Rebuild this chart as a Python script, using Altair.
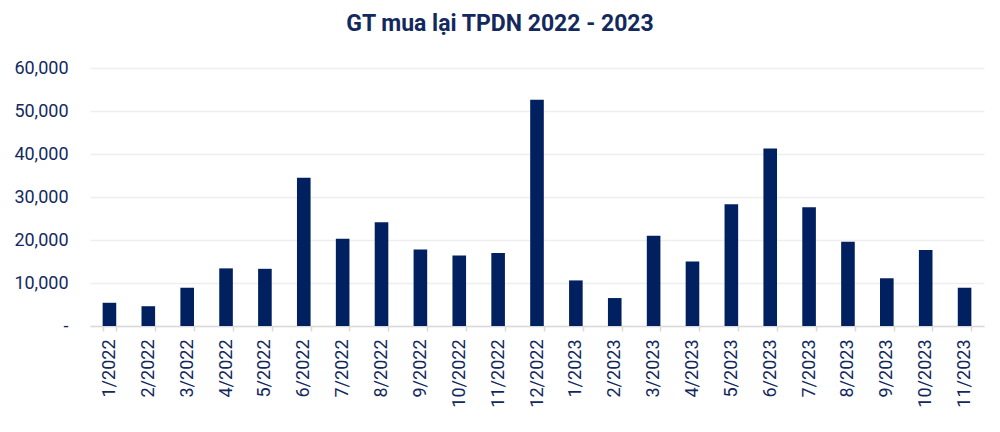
import altair as alt
import pandas as pd

months = ["1/2022", "2/2022", "3/2022", "4/2022", "5/2022", "6/2022", "7/2022",
          "8/2022", "9/2022", "10/2022", "11/2022", "12/2022",
          "1/2023", "2/2023", "3/2023", "4/2023", "5/2023", "6/2023", "7/2023",
          "8/2023", "9/2023", "10/2023", "11/2023"]
values = [5400, 4600, 8900, 13400, 13300, 34500, 20300, 24100, 17800, 16400, 17000, 52600,
          10600, 6500, 21000, 15000, 28300, 41300, 27600, 19600, 11100, 17700, 8900]

df = pd.DataFrame({"month": months, "value": values})

NAVY = "#13295e"
BAR = "#002060"

chart = alt.Chart(df).mark_bar(color=BAR).encode(
    x=alt.X("month:N", sort=months, title=None,
            scale=alt.Scale(paddingInner=0.65, paddingOuter=0.325),
            axis=alt.Axis(labelAngle=270, labelFont="Roboto", labelFontSize=18,
                          labelColor=NAVY, domainColor="#d9d9d9", domainWidth=1.5,
                          tickColor="#d9d9d9", tickWidth=1.5, tickSize=5,
                          tickBand="extent", labelPadding=8, grid=False)),
    y=alt.Y("value:Q", title=None,
            scale=alt.Scale(domain=[0, 60000], nice=False),
            axis=alt.Axis(values=[0, 10000, 20000, 30000, 40000, 50000, 60000],
                          labelExpr="datum.value == 0 ? '-\u00a0\u00a0' : format(datum.value, ',')",
                          labelFont="Roboto", labelFontSize=18, labelColor=NAVY,
                          domain=False, ticks=False, labelPadding=22,
                          gridColor="#eeeeee", gridWidth=1.5)),
).properties(
    width=894,
    height=258,
    title=alt.TitleParams("GT mua lại TPDN 2022 - 2023", font="Roboto", fontSize=23,
                          fontWeight="bold", color=NAVY, anchor="middle",
                          baseline="bottom", offset=0, dx=-37),
    autosize=alt.AutoSizeParams(type="none"),
    padding={"left": 82, "top": 60, "right": 8, "bottom": 98},
).configure_view(stroke=None)

chart.save("out.html", embed_options={"renderer": "svg", "actions": False})
